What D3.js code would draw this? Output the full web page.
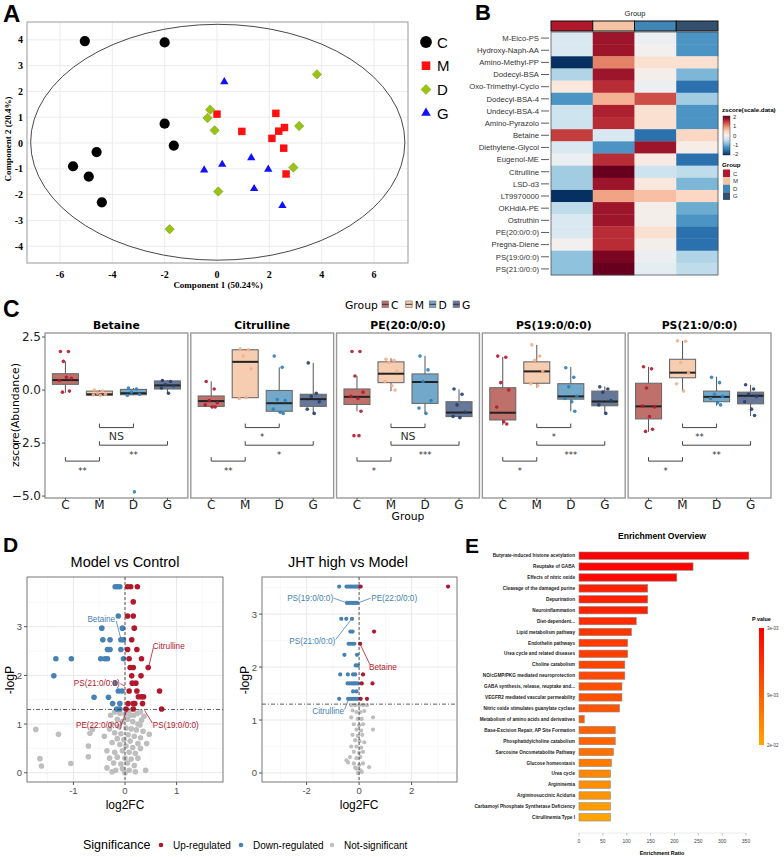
<!DOCTYPE html>
<html>
<head>
<meta charset="utf-8">
<script src="https://cdn.jsdelivr.net/npm/d3@7"></script>
<style>
  body { margin:0; background:#fff; }
</style>
</head>
<body>
<svg width="784" height="857"></svg>
<script>
// ---------- A : score plot ----------
var pcaGroups = ["C", "M", "D", "G"];
var pcaC = [[-5.05,3.95],[-2.0,3.9],[-2.0,0.75],[-1.65,-0.1],[-4.6,-0.35],[-5.5,-0.9],[-4.9,-1.3],[-4.4,-2.3]];
var pcaM = [[0.0,1.12],[0.95,0.45],[2.25,1.15],[2.36,0.46],[2.58,0.6],[2.1,0.18],[2.55,-0.2],[2.64,-1.2]];
var pcaD = [[3.82,2.66],[-0.26,1.29],[-0.36,0.97],[-0.09,0.49],[3.14,0.66],[2.92,-0.95],[0.05,-1.88],[-1.81,-3.34]];
var pcaG = [[0.28,2.37],[-0.49,-1.05],[0.2,-0.83],[1.31,-0.57],[1.96,-1.02],[1.42,-1.77],[2.5,-2.43]];
var ellipseCentre = [0.03, 0.03], ellipseRadii = [7.15, 4.57];

// ---------- B : heatmap ----------
var heatRows = ["M-Eico-PS","Hydroxy-Naph-AA","Amino-Methyl-PP","Dodecyl-BSA","Oxo-Trimethyl-Cyclo","Dodecyl-BSA-4",
  "Undecyl-BSA-4","Amino-Pyrazolo","Betaine","Diethylene-Glycol","Eugenol-ME","Citrulline","LSD-d3","LT9970000",
  "OKHdiA-PE","Ostruthin","PE(20:0/0:0)","Pregna-Diene","PS(19:0/0:0)","PS(21:0/0:0)"];
var heatZ = [
  [-0.3,1.7,-0.1,-1.2],[-0.3,1.7,0.0,-1.2],[-2.0,1.0,0.3,0.3],[-0.6,1.7,0.05,-0.9],[0.2,1.5,-0.1,-1.5],
  [-1.2,0.7,1.3,-0.7],[-0.4,1.6,0.3,-1.2],[-0.4,1.5,0.3,-1.2],[1.4,-0.3,-1.5,0.4],[-0.3,-1.2,1.7,0.1],
  [-0.1,1.5,0.15,-1.5],[-0.7,2.0,-0.4,-0.5],[-0.7,1.7,0.2,-0.9],[-2.0,0.8,0.6,0.4],[-0.5,1.7,0.05,-1.0],
  [-0.3,1.7,0.05,-1.2],[-0.3,1.5,0.3,-1.5],[0.0,1.5,0.05,-1.5],[-0.8,1.9,-0.1,-0.6],[-0.8,2.0,-0.2,-0.5]];
var zTicks = [2, 1, 0, -1, -2];

// ---------- C : box plots ----------
var boxNames = ["Betaine","Citrulline","PE(20:0/0:0)","PS(19:0/0:0)","PS(21:0/0:0)"];
// per metabolite, per group: [low whisker, q1, median, q3, high whisker]
var boxStats = [
  [[-0.13,0.27,0.47,0.77,1.35],[-0.26,-0.24,-0.2,-0.05,0.0],[-0.25,-0.22,-0.15,0.03,0.1],[-0.15,0.05,0.22,0.43,0.47]],
  [[-0.84,-0.77,-0.52,-0.28,0.41],[-0.38,-0.36,1.33,1.9,1.93],[-1.07,-1.0,-0.62,-0.02,1.07],[-1.14,-0.77,-0.43,-0.2,1.28]],
  [[-1.0,-0.68,-0.32,0.05,0.66],[-0.05,0.35,0.77,1.33,1.5],[-1.12,-0.63,0.38,0.76,1.61],[-1.36,-1.25,-1.06,-0.55,0.03]],
  [[-1.66,-1.41,-1.07,0.11,1.56],[0.11,0.32,0.88,1.33,2.13],[-1.0,-0.43,-0.3,0.3,1.09],[-1.12,-0.74,-0.54,-0.05,0.17]],
  [[-1.97,-1.36,-0.77,0.32,1.09],[-0.05,0.58,0.82,1.45,2.32],[-0.74,-0.55,-0.32,-0.05,0.63],[-1.23,-0.65,-0.27,-0.1,0.25]]
];
var boxPoints = [
  [[1.82,1.82,1.35,0.55,0.45,0.6,-0.05,-0.1],[0.0,-0.05,-0.15,-0.2,-0.22,-0.25],[0.1,0.05,-0.1,-0.2,-0.25,-4.8],[0.45,0.4,0.25,0.2,0.1,-0.15]],
  [[0.4,0.05,-0.5,-0.6,-0.7,-0.8,-0.8],[1.95,1.9,1.6,1.0,-0.4,-0.35],[1.6,1.07,-0.45,-0.5,-0.9,-1.05,-1.1],[1.28,-0.15,-0.3,-0.55,-0.9,-1.1]],
  [[1.82,1.82,0.66,-0.1,-0.3,-0.4,-1.0,-2.15,-2.15],[1.45,1.4,1.3,0.9,0.4,0.2,0.0],[1.6,0.95,0.4,-0.5,-0.85,-1.1],[0.05,-0.2,-0.7,-1.05,-1.25,-1.3]],
  [[1.6,1.55,0.35,0.0,-0.8,-1.5,-1.6],[2.13,1.6,1.4,0.9,0.3,0.2],[1.05,0.6,0.15,-0.3,-0.4,-0.55,-1.0],[0.15,0.05,-0.1,-0.5,-0.7,-1.1]],
  [[1.1,1.0,0.1,-0.8,-0.75,-1.25,-1.85,-1.95],[2.32,2.3,1.3,0.8,0.3,-0.05],[0.6,0.35,-0.2,-0.3,-0.4,-0.6,-0.7],[0.25,0.05,-0.2,-0.3,-0.55,-0.9,-1.2]]
];
var sigPairs = [["M","D"],["M","G"],["C","M"]];
var sigLevels = [-1.77, -2.6, -3.35];
var sigLabels = [["NS","**","**"],["*","*","**"],["NS","***","*"],["*","***","*"],["**","**","*"]];
var boxTicks = [2.5, 0, -2.5, -5];

// ---------- D : volcano plots ----------
var volLeftUp = [[0.05,3.82],[0.11,3.82],[0.24,3.82],[0.16,3.51],[0.05,3.22],[0.16,3.22],[0.18,2.97],[0.13,2.73],
  [0.05,2.53],[0.23,2.53],[0.08,2.34],[0.32,2.34],[0.1,2.16],[0.16,2.16],[0.45,2.16],[0.13,1.99],[0.31,1.99],
  [0.14,1.84],[0.21,1.84],[0.08,1.68],[0.23,1.68],[0.67,1.68],[0.26,1.56],[0.32,1.56],[0.36,1.56],[0.06,1.42],
  [0.16,1.42],[0.19,1.42],[0.34,1.42],[0.02,1.31],[0.16,1.31],[0.71,1.31]];
var volLeftDown = [[-0.19,3.82],[-0.15,3.82],[-0.1,3.82],[-0.13,3.22],[-0.45,2.97],[-0.05,2.97],[-0.43,2.73],
  [-0.29,2.73],[-0.08,2.73],[-0.03,2.73],[-0.34,2.53],[-0.29,2.53],[-0.08,2.53],[-1.34,2.34],[-1.04,2.34],
  [-0.47,2.34],[-0.39,2.34],[-0.34,2.34],[-0.03,2.34],[-1.38,1.99],[-0.19,1.84],[-0.13,1.68],[-0.06,1.68],
  [-0.6,1.55],[-0.32,1.55],[-0.24,1.42],[-0.1,1.42],[-0.16,1.31],[-0.1,1.31]];
var volLeftNs = [[-1.73,0.89],[-1.29,0.79],[-1.65,0.29],[-1.62,0.14],[-1.05,0.19],[-0.71,0.33],[-0.71,0.55],
  [-0.68,0.81],[-0.63,0.89],[0.32,1.08],[0.37,1.16],[0.47,0.79],[0.4,0.05],[0.29,0.98],[0.17,1.18],
  [-0.2,1.25],[-0.1,1.22],[0.0,1.2],[0.1,1.18],[0.24,1.22],[-0.15,1.1],[-0.05,1.05],[0.05,1.1],[0.15,1.05],
  [0.25,1.0],[-0.25,1.0],[-0.3,0.9],[-0.12,0.95],[0.02,0.92],[0.12,0.9],[0.22,0.88],[-0.2,0.82],[-0.08,0.8],
  [0.06,0.78],[0.18,0.75],[0.3,0.72],[-0.15,0.7],[-0.02,0.68],[0.1,0.65],[0.25,0.6],[-0.25,0.62],[-0.1,0.58],
  [0.02,0.55],[0.15,0.52],[-0.35,0.45],[-0.2,0.42],[-0.05,0.45],[0.08,0.42],[0.2,0.4],[-0.3,0.3],[-0.15,0.32],
  [0.0,0.3],[0.12,0.28],[0.25,0.3],[-0.22,0.2],[-0.08,0.18],[0.05,0.2],[0.18,0.15],[-0.35,0.1],[-0.18,0.05],
  [-0.05,0.08],[0.08,0.05],[0.2,0.02],[-0.25,0.02],[0.0,0.0],[0.3,0.5],[0.35,0.85],[-0.4,0.75],[0.42,0.6],
  [-0.1,1.28],[0.08,1.27],[-0.28,1.18],[0.3,1.25]];
var volRightUp = [[0.06,3.52],[3.39,3.52],[0.57,2.67],[0.04,2.44],[0.15,1.86],[0.1,1.69],[0.51,1.69],[0.06,1.4],[0.3,1.4]];
var volRightDown = [[-0.76,3.52],[-0.48,3.52],[-0.41,3.52],[-0.34,3.52],[-0.27,3.52],[-0.2,3.52],[-0.13,3.52],[-0.06,3.52],
  [-0.46,3.21],[-0.38,3.21],[-0.3,3.21],[-0.23,3.21],[-0.15,3.21],[-0.08,3.21],[-0.68,2.91],[-0.49,2.91],[-0.27,2.91],
  [-0.33,2.67],[-0.25,2.67],[-0.4,2.44],[-0.33,2.44],[-0.25,2.44],[-0.18,2.44],[-0.56,2.23],[-0.08,2.23],
  [-0.13,2.03],[-0.05,2.03],[-0.72,1.86],[-0.43,1.86],[-0.23,1.86],[-0.15,1.86],[-0.44,1.69],[-0.35,1.69],
  [-0.27,1.69],[-0.2,1.69],[-0.13,1.69],[-0.05,1.69],[-0.23,1.54],[-0.1,1.54],[-0.76,1.4],[-0.42,1.4],
  [-0.35,1.4],[-0.28,1.4],[-0.2,1.4],[-0.13,1.4],[-0.05,1.4]];
var volRightNs = [[-0.3,1.28],[-0.15,1.28],[0.0,1.28],[0.15,1.28],[0.3,1.28],[-0.25,1.18],[-0.1,1.15],[0.05,1.15],
  [0.2,1.17],[-0.3,1.05],[-0.05,1.02],[0.1,1.02],[0.53,1.05],[-0.2,0.92],[0.0,0.9],[0.15,0.92],[-0.1,0.82],
  [0.08,0.8],[0.53,0.82],[-0.25,0.72],[-0.05,0.7],[0.12,0.72],[-0.15,0.62],[0.02,0.6],[0.2,0.58],[-0.3,0.5],
  [-0.1,0.5],[0.08,0.48],[-0.2,0.4],[0.0,0.38],[0.15,0.4],[-0.35,0.3],[-0.1,0.28],[0.05,0.3],[-0.48,0.24],
  [-0.42,0.2],[-0.2,0.18],[0.0,0.15],[0.15,0.18],[0.38,0.11],[-0.1,0.08],[0.05,0.05],[-0.05,0.0],[0.1,0.02],[-0.15,0.1]];
// label: text, text position, anchor, line start, line end (all in data units)
var volLeftLabels = [
  ["Betaine",[-0.19,3.16],"end",[-0.17,3.12],[-0.08,2.75],"down"],
  ["Citrulline",[0.54,2.61],"start",[0.55,2.57],[0.46,2.18],"up"],
  ["PS(21:0/0:0)",[-0.1,1.85],"end",[-0.09,1.83],[0.0,1.78],"up"],
  ["PE(22:0/0:0)",[-0.06,0.99],"end",[-0.08,0.97],[0.04,1.29],"up"],
  ["PS(19:0/0:0)",[0.54,0.99],"start",[0.53,1.02],[0.38,1.28],"up"]];
var volRightLabels = [
  ["PS(19:0/0:0)",[-0.99,3.3],"end",[-0.97,3.3],[-0.45,3.21],"down"],
  ["PE(22:0/0:0)",[0.46,3.3],"start",[0.44,3.3],[-0.05,3.21],"down"],
  ["PS(21:0/0:0)",[-0.91,2.49],"end",[-0.89,2.52],[-0.3,2.9],"down"],
  ["Betaine",[0.38,2.0],"start",[0.4,2.06],[0.05,2.42],"up"],
  ["Citrulline",[-0.57,1.17],"end",[-0.55,1.2],[-0.4,1.39],"down"]];

// ---------- E : enrichment ----------
var pathNames = ["Butyrate-induced histone acetylation","Reuptake of GABA","Effects of nitric oxide",
  "Cleavage of the damaged purine","Depurination","Neuroinflammation","Diet-dependent...","Lipid metabolism pathway",
  "Endothelin pathways","Urea cycle and related diseases","Choline catabolism","NO/cGMP/PKG mediated neuroprotection",
  "GABA synthesis, release, reuptake and...","VEGFR2 mediated vascular permeability","Nitric oxide stimulates guanylate cyclase",
  "Metabolism of amino acids and derivatives","Base-Excision Repair, AP Site Formation","Phosphatidylcholine catabolism",
  "Sarcosine Oncometabolite Pathway","Glucose homeostasis","Urea cycle","Argininemia","Argininosuccinic Aciduria",
  "Carbamoyl Phosphate Synthetase Deficiency","Citrullinemia Type I"];
var pathRatio = [356,239,205,144,144,144,120,110,102,102,96,96,90,90,85,11,76,76,72,68,66,66,66,66,66];
var pathP = [0.0030,0.00312,0.00329,0.00438,0.00438,0.00438,0.0050,0.00549,0.00592,0.00615,0.00663,0.00688,
  0.00742,0.00771,0.00801,0.00847,0.00938,0.00974,0.0109,0.0124,0.0142,0.0153,0.0165,0.0181,0.0200];
var ratioTicks = [0,50,100,150,200,250,300,350];
var pTicks = [0.003, 0.009, 0.02];
var pTickLabels = ["3e-03","9e-03","2e-02"];

var sans = "'Liberation Sans', Arial, sans-serif";
var dejavu = "'DejaVu Sans', sans-serif";
var serif = "'Liberation Serif', 'Times New Roman', serif";
var svg = d3.select("svg");

function letter(t, x, y, size) {
  svg.append("text").attr("x", x).attr("y", y).text(t)
    .attr("font-family", sans).attr("font-weight", "bold").attr("font-size", size);
}
letter("A", 3, 22, 24); letter("B", 475, 20, 22); letter("C", 3, 317, 23);
letter("D", 3, 552, 21); letter("E", 465, 553, 21);

// ================= A =================
var ax = d3.scaleLinear().domain([-7.26, 7.3]).range([27, 408]);
var ay = d3.scaleLinear().domain([-4.65, 4.69]).range([263, 22]);
var gA = svg.append("g");
gA.selectAll(".vg").data(d3.range(-6, 7, 2)).enter().append("line")
  .attr("x1", ax).attr("x2", ax).attr("y1", 22).attr("y2", 263).attr("stroke", "#ececec");
gA.selectAll(".hg").data(d3.range(-4, 5)).enter().append("line")
  .attr("y1", ay).attr("y2", ay).attr("x1", 27).attr("x2", 408).attr("stroke", "#ececec");
gA.append("rect").attr("x", 27).attr("y", 22).attr("width", 381).attr("height", 241)
  .attr("fill", "none").attr("stroke", "#999");
gA.append("ellipse").attr("cx", ax(ellipseCentre[0])).attr("cy", ay(ellipseCentre[1]))
  .attr("rx", ax(ellipseRadii[0]) - ax(0)).attr("ry", ay(0) - ay(ellipseRadii[1]))
  .attr("fill", "none").attr("stroke", "#333").attr("stroke-width", 0.9);
gA.selectAll(".xt").data(d3.range(-6, 7, 2)).enter().append("text")
  .attr("x", ax).attr("y", 278).attr("text-anchor", "middle").text(function(d){return d;})
  .attr("font-family", serif).attr("font-weight", "bold").attr("font-size", 10);
gA.selectAll(".yt").data(d3.range(-4, 5)).enter().append("text")
  .attr("x", 23).attr("y", function(d){return ay(d) + 3.5;}).attr("text-anchor", "end").text(function(d){return d;})
  .attr("font-family", serif).attr("font-weight", "bold").attr("font-size", 10);
gA.append("text").attr("x", 218).attr("y", 288).attr("text-anchor", "middle").text("Component 1 (50.24%)")
  .attr("font-family", serif).attr("font-weight", "bold").attr("font-size", 9);
gA.append("text").attr("transform", "translate(11,139) rotate(-90)").attr("text-anchor", "middle")
  .text("Component 2 (20.4%)").attr("font-family", serif).attr("font-weight", "bold").attr("font-size", 9);

var pcaSets = [pcaC, pcaM, pcaD, pcaG];
var pcaColor = ["#000000", "#ff1010", "#99c417", "#1010ff"];
var pcaSym = [d3.symbol().type(d3.symbolCircle).size(82), d3.symbol().type(d3.symbolSquare).size(56),
  d3.symbol().type(d3.symbolSquare).size(44), d3.symbol().type(d3.symbolTriangle).size(30)];
var pcaRot = [0, 0, 45, 0];
pcaSets.forEach(function(set, i) {
  gA.selectAll(".p" + i).data(set).enter().append("path")
    .attr("d", pcaSym[i]())
    .attr("transform", function(d){return "translate(" + ax(d[0]) + "," + ay(d[1]) + ") rotate(" + pcaRot[i] + ")";})
    .attr("fill", pcaColor[i]).attr("stroke", i == 2 ? "#7fa314" : "none").attr("stroke-width", 0.6);
});
var legA = svg.append("g");
pcaGroups.forEach(function(g, i) {
  var yy = 42 + i * 23.7;
  legA.append("path").attr("d", pcaSym[i]()).attr("fill", pcaColor[i])
    .attr("transform", "translate(426," + yy + ") rotate(" + pcaRot[i] + ") scale(1.15)");
  legA.append("text").attr("x", 437).attr("y", yy + 5.5).text(g)
    .attr("font-family", sans).attr("font-size", 15);
});

// ================= B =================
var hx = d3.scaleBand().domain(pcaGroups).range([551, 718]);
var hy = d3.scaleBand().domain(heatRows).range([32, 275]);
var heatCol = d3.scaleSequential(d3.interpolateRdBu).domain([2, -2]);
var groupCol = {C: "#b2182b", M: "#f4c4a4", D: "#3f86b5", G: "#34506f"};
var gB = svg.append("g");
gB.append("text").attr("x", 635).attr("y", 16).attr("text-anchor", "middle").text("Group")
  .attr("font-family", sans).attr("font-size", 7.5).attr("fill", "#222");
gB.selectAll(".ann").data(pcaGroups).enter().append("rect")
  .attr("x", function(d){return hx(d);}).attr("y", 21).attr("width", hx.bandwidth()).attr("height", 10)
  .attr("fill", function(d){return groupCol[d];}).attr("stroke", "#111").attr("stroke-width", 1);
heatRows.forEach(function(r, i) {
  gB.selectAll(".c" + i).data(heatZ[i]).enter().append("rect")
    .attr("x", function(d, j){return hx(pcaGroups[j]);}).attr("y", hy(r))
    .attr("width", hx.bandwidth() + 0.3).attr("height", hy.bandwidth() + 0.3)
    .attr("fill", function(d){return heatCol(d);});
  gB.append("text").attr("x", 539).attr("y", hy(r) + hy.bandwidth() / 2 + 2.8).attr("text-anchor", "end")
    .text(r).attr("font-family", sans).attr("font-size", 7.7).attr("fill", "#333");
  gB.append("line").attr("x1", 541).attr("x2", 549).attr("y1", hy(r) + hy.bandwidth() / 2)
    .attr("y2", hy(r) + hy.bandwidth() / 2).attr("stroke", "#333").attr("stroke-width", 0.8);
});
gB.append("rect").attr("x", 551).attr("y", 32).attr("width", 167).attr("height", 243)
  .attr("fill", "none").attr("stroke", "#444").attr("stroke-width", 0.7);
// colour legend
var defs = svg.append("defs");
var grad = defs.append("linearGradient").attr("id", "zgrad").attr("x1", 0).attr("x2", 0).attr("y1", 0).attr("y2", 1);
d3.range(0, 1.01, 0.1).forEach(function(t) {
  grad.append("stop").attr("offset", t).attr("stop-color", heatCol(2 - 4 * t));
});
var zy = d3.scaleLinear().domain([2, -2]).range([117, 154]);
gB.append("text").attr("x", 722).attr("y", 112).text("zscore(scale.data)")
  .attr("font-family", sans).attr("font-weight", "bold").attr("font-size", 6.2);
gB.append("rect").attr("x", 723).attr("y", 116).attr("width", 7).attr("height", 39).attr("fill", "url(#zgrad)")
  .attr("stroke", "#333").attr("stroke-width", 0.5);
gB.selectAll(".zt").data(zTicks).enter().append("text")
  .attr("x", 733).attr("y", function(d){return zy(d) + 2.2;}).text(function(d){return d;})
  .attr("font-family", sans).attr("font-size", 6).attr("fill", "#333");
gB.append("text").attr("x", 722).attr("y", 167).text("Group")
  .attr("font-family", sans).attr("font-weight", "bold").attr("font-size", 6.2);
pcaGroups.forEach(function(g, i) {
  gB.append("rect").attr("x", 723).attr("y", 169.5 + i * 7.6).attr("width", 7).attr("height", 7.6)
    .attr("fill", groupCol[g]);
  gB.append("text").attr("x", 733).attr("y", 175.5 + i * 7.6).text(g)
    .attr("font-family", sans).attr("font-size", 6).attr("fill", "#333");
});

// ================= C =================
var boxFill = {C: "#c0706b", M: "#f6cdb0", D: "#72a9cb", G: "#66789a"};
var dotCol = {C: "#b2182b", M: "#f4b08a", D: "#2f80b8", G: "#243f6a"};
var cY = d3.scaleLinear().domain([-5.09, 2.69]).range([498, 333]);
var facet = d3.scaleBand().domain(boxNames).range([45, 771]).paddingInner(0.02);
var inner = d3.scalePoint().domain(pcaGroups).range([0, facet.bandwidth()]).padding(0.6);
var jitter = [-5, 3, -2, 6, -6, 1, 4, -3, 2];
var gC = svg.append("g");
boxNames.forEach(function(name, m) {
  var g = gC.append("g").attr("transform", "translate(" + facet(name) + ",0)");
  g.append("rect").attr("x", 0).attr("y", 333).attr("width", facet.bandwidth()).attr("height", 165)
    .attr("fill", "none").attr("stroke", "#9a9a9a").attr("stroke-width", 1.4);
  g.append("text").attr("x", facet.bandwidth() / 2).attr("y", 329).attr("text-anchor", "middle").text(name)
    .attr("font-family", dejavu).attr("font-weight", "bold").attr("font-size", 10.8);
  pcaGroups.forEach(function(grp, k) {
    var s = boxStats[m][k], cx = inner(grp), bw = 26;
    g.append("line").attr("x1", cx).attr("x2", cx).attr("y1", cY(s[0])).attr("y2", cY(s[4]))
      .attr("stroke", "#555").attr("stroke-width", 1);
    g.append("rect").attr("x", cx - bw / 2).attr("y", cY(s[3])).attr("width", bw)
      .attr("height", cY(s[1]) - cY(s[3])).attr("fill", boxFill[grp]).attr("stroke", "#6b6b6b").attr("stroke-width", 1.1);
    g.append("line").attr("x1", cx - bw / 2).attr("x2", cx + bw / 2).attr("y1", cY(s[2])).attr("y2", cY(s[2]))
      .attr("stroke", "#222").attr("stroke-width", 2);
    g.selectAll(".d" + k).data(boxPoints[m][k]).enter().append("circle")
      .attr("cx", function(d, i){return cx + jitter[i % jitter.length];}).attr("cy", function(d){return cY(d);})
      .attr("r", 1.8).attr("fill", dotCol[grp]).attr("opacity", 0.9);
    g.append("text").attr("x", cx).attr("y", 509).attr("text-anchor", "middle").text(grp)
      .attr("font-family", dejavu).attr("font-size", 12).attr("fill", "#222");
    g.append("line").attr("x1", cx).attr("x2", cx).attr("y1", 498).attr("y2", 501).attr("stroke", "#555");
  });
  sigPairs.forEach(function(p, k) {
    var x1 = inner(p[0]), x2 = inner(p[1]), yl = cY(sigLevels[k]);
    g.append("path").attr("d", "M" + x1 + "," + (yl - 4) + "V" + yl + "H" + x2 + "V" + (yl - 4))
      .attr("fill", "none").attr("stroke", "#444").attr("stroke-width", 1);
    var lab = sigLabels[m][k];
    g.append("text").attr("x", (x1 + x2) / 2).attr("y", yl + (lab == "NS" ? 12 : 12.5)).attr("text-anchor", "middle")
      .text(lab).attr("font-family", dejavu).attr("font-size", lab == "NS" ? 11 : 8.5).attr("fill", "#333");
  });
});
gC.selectAll(".yt").data(boxTicks).enter().append("text")
  .attr("x", 41).attr("y", function(d){return cY(d) + 4.3;}).attr("text-anchor", "end")
  .text(function(d){return d3.format(".1f")(d);}).attr("font-family", dejavu).attr("font-size", 12).attr("fill", "#222");
gC.selectAll(".ytk").data(boxTicks).enter().append("line")
  .attr("x1", 42).attr("x2", 45).attr("y1", cY).attr("y2", cY).attr("stroke", "#555");
gC.append("text").attr("transform", "translate(19,415) rotate(-90)").attr("text-anchor", "middle")
  .text("zscore(Abundance)").attr("font-family", dejavu).attr("font-size", 10.8);
gC.append("text").attr("x", 408).attr("y", 520).attr("text-anchor", "middle").text("Group")
  .attr("font-family", dejavu).attr("font-size", 10.8);
gC.append("text").attr("x", 345).attr("y", 309).text("Group").attr("font-family", dejavu).attr("font-size", 10.8);
pcaGroups.forEach(function(grp, i) {
  var lx = 382 + i * 23.7;
  gC.append("rect").attr("x", lx).attr("y", 301).attr("width", 6.5).attr("height", 6.5)
    .attr("fill", boxFill[grp]).attr("stroke", "#777").attr("stroke-width", 0.7);
  gC.append("line").attr("x1", lx).attr("x2", lx + 6.5).attr("y1", 304.3).attr("y2", 304.3).attr("stroke", "#333");
  gC.append("text").attr("x", lx + 9).attr("y", 309).text(grp).attr("font-family", dejavu).attr("font-size", 10.8);
});

// ================= D =================
var sigCol = {up: "#b2182b", down: "#4682b4", ns: "#bebebe"};
function volcano(opt) {
  var x = d3.scaleLinear().domain(opt.xd).range(opt.xr);
  var y = d3.scaleLinear().domain(opt.yd).range([782, 577]);
  var g = svg.append("g");
  g.selectAll(".mx").data(opt.xminor).enter().append("line").attr("x1", x).attr("x2", x)
    .attr("y1", 577).attr("y2", 782).attr("stroke", "#f3f3f3").attr("stroke-width", 0.6);
  g.selectAll(".my").data(opt.yminor).enter().append("line").attr("y1", y).attr("y2", y)
    .attr("x1", opt.xr[0]).attr("x2", opt.xr[1]).attr("stroke", "#f3f3f3").attr("stroke-width", 0.6);
  g.selectAll(".Mx").data(opt.xt).enter().append("line").attr("x1", x).attr("x2", x)
    .attr("y1", 577).attr("y2", 782).attr("stroke", "#e8e8e8").attr("stroke-width", 1);
  g.selectAll(".My").data(opt.yt).enter().append("line").attr("y1", y).attr("y2", y)
    .attr("x1", opt.xr[0]).attr("x2", opt.xr[1]).attr("stroke", "#e8e8e8").attr("stroke-width", 1);
  [["ns", opt.ns], ["down", opt.down], ["up", opt.up]].forEach(function(s) {
    g.selectAll(".pt" + s[0]).data(s[1]).enter().append("circle")
      .attr("cx", function(d){return x(d[0]);}).attr("cy", function(d){return y(d[1]);})
      .attr("r", opt.r).attr("fill", sigCol[s[0]]);
  });
  g.append("line").attr("x1", opt.xr[0]).attr("x2", opt.xr[1]).attr("y1", y(1.3)).attr("y2", y(1.3))
    .attr("stroke", "#333").attr("stroke-width", 0.8).attr("stroke-dasharray", "4,2,1,2");
  g.append("line").attr("x1", x(0)).attr("x2", x(0)).attr("y1", 577).attr("y2", 782)
    .attr("stroke", "#333").attr("stroke-width", 0.8).attr("stroke-dasharray", "3,2");
  opt.labels.forEach(function(l) {
    var c = l[5] == "up" ? sigCol.up : sigCol.down;
    g.append("line").attr("x1", x(l[3][0])).attr("y1", y(l[3][1])).attr("x2", x(l[4][0])).attr("y2", y(l[4][1]))
      .attr("stroke", c).attr("stroke-width", 0.8);
    g.append("text").attr("x", x(l[1][0])).attr("y", y(l[1][1]) + 3).attr("text-anchor", l[2]).text(l[0])
      .attr("font-family", sans).attr("font-size", 8.2).attr("fill", c);
  });
  g.append("rect").attr("x", opt.xr[0]).attr("y", 577).attr("width", opt.xr[1] - opt.xr[0]).attr("height", 205)
    .attr("fill", "none").attr("stroke", "#555").attr("stroke-width", 0.8);
  g.selectAll(".xtl").data(opt.xt).enter().append("text").attr("x", x).attr("y", 794).attr("text-anchor", "middle")
    .text(function(d){return d;}).attr("font-family", sans).attr("font-size", 9.5).attr("fill", "#4d4d4d");
  g.selectAll(".xtk").data(opt.xt).enter().append("line").attr("x1", x).attr("x2", x).attr("y1", 782).attr("y2", 785)
    .attr("stroke", "#555");
  g.selectAll(".ytl").data(opt.yt).enter().append("text").attr("x", opt.xr[0] - 5).attr("y", function(d){return y(d) + 3.5;})
    .attr("text-anchor", "end").text(function(d){return d;}).attr("font-family", sans).attr("font-size", 9.5).attr("fill", "#4d4d4d");
  g.selectAll(".ytk").data(opt.yt).enter().append("line").attr("y1", y).attr("y2", y).attr("x1", opt.xr[0] - 3).attr("x2", opt.xr[0])
    .attr("stroke", "#555");
  g.append("text").attr("x", x(0)).attr("y", 809).attr("text-anchor", "middle").text("log2FC")
    .attr("font-family", sans).attr("font-size", 12);
  g.append("text").attr("transform", "translate(" + (opt.xr[0] - 13) + ",680) rotate(-90)").attr("text-anchor", "middle")
    .text("-logP").attr("font-family", sans).attr("font-size", 12.2);
  g.append("text").attr("x", opt.tx).attr("y", 567).attr("text-anchor", "middle").text(opt.title)
    .attr("font-family", sans).attr("font-size", 14.5);
}
volcano({xd: [-1.9, 1.9], xr: [27, 223], yd: [-0.19, 4.02], xt: [-1, 0, 1], yt: [0, 1, 2, 3],
  xminor: [-1.5, -0.5, 0.5, 1.5], yminor: [0.5, 1.5, 2.5, 3.5], up: volLeftUp, down: volLeftDown, ns: volLeftNs,
  r: 2.8, labels: volLeftLabels, title: "Model vs Control", tx: 125});
volcano({xd: [-3.7, 3.73], xr: [262, 457], yd: [-0.17, 3.7], xt: [-2, 0, 2], yt: [0, 1, 2, 3],
  xminor: [-3, -1, 1, 3], yminor: [0.5, 1.5, 2.5, 3.5], up: volRightUp, down: volRightDown, ns: volRightNs,
  r: 2.1, labels: volRightLabels, title: "JHT high vs Model", tx: 348});
var legD = svg.append("g");
legD.append("text").attr("x", 83).attr("y", 849).text("Significance").attr("font-family", sans).attr("font-size", 12.5);
[["up", "Up-regulated", 161], ["down", "Down-regulated", 241], ["ns", "Not-significant", 332]].forEach(function(e) {
  legD.append("circle").attr("cx", e[2]).attr("cy", 845).attr("r", 2.3).attr("fill", sigCol[e[0]]);
  legD.append("text").attr("x", e[2] + 12).attr("y", 848.5).text(e[1]).attr("font-family", sans).attr("font-size", 10);
});

// ================= E =================
var ex = d3.scaleLinear().domain([0, 350]).range([579, 746]);
var ey = d3.scaleBand().domain(pathNames).range([548.5, 824.5]).padding(0.32);
var pCol = d3.scaleLog().domain([0.003, 0.02]).range(["#ff0000", "#ffa500"]);
var gE = svg.append("g");
gE.append("text").attr("x", 662).attr("y", 539).attr("text-anchor", "middle").text("Enrichment Overview")
  .attr("font-family", sans).attr("font-weight", "bold").attr("font-size", 8.6);
gE.selectAll(".bar").data(pathNames).enter().append("rect")
  .attr("x", ex(0)).attr("y", function(d){return ey(d);})
  .attr("width", function(d, i){return ex(pathRatio[i]) - ex(0);}).attr("height", ey.bandwidth())
  .attr("fill", function(d, i){return pCol(pathP[i]);}).attr("stroke", "#8a8a8a").attr("stroke-width", 0.6);
gE.selectAll(".bl").data(pathNames).enter().append("text")
  .attr("x", 575).attr("y", function(d){return ey(d) + ey.bandwidth() / 2 + 1.7;}).attr("text-anchor", "end")
  .text(function(d){return d;}).attr("font-family", sans).attr("font-weight", "bold").attr("font-size", 4.7).attr("fill", "#222");
gE.append("line").attr("x1", ex(0)).attr("x2", ex(350)).attr("y1", 833).attr("y2", 833).attr("stroke", "#ddd").attr("stroke-width", 0.6);
gE.selectAll(".et").data(ratioTicks).enter().append("line").attr("x1", ex).attr("x2", ex).attr("y1", 833).attr("y2", 835.5)
  .attr("stroke", "#999").attr("stroke-width", 0.6);
gE.selectAll(".etl").data(ratioTicks).enter().append("text").attr("x", ex).attr("y", 843).attr("text-anchor", "middle")
  .text(function(d){return d;}).attr("font-family", sans).attr("font-size", 5).attr("fill", "#444");
gE.append("text").attr("x", 662).attr("y", 855).attr("text-anchor", "middle").text("Enrichment Ratio")
  .attr("font-family", sans).attr("font-weight", "bold").attr("font-size", 5.4);
var pgrad = defs.append("linearGradient").attr("id", "pgrad").attr("x1", 0).attr("x2", 0).attr("y1", 0).attr("y2", 1);
pgrad.append("stop").attr("offset", 0).attr("stop-color", pCol(0.003));
pgrad.append("stop").attr("offset", 1).attr("stop-color", pCol(0.02));
var py = d3.scaleLog().domain([0.003, 0.02]).range([628, 745]);
gE.append("text").attr("x", 752).attr("y", 621).text("P value").attr("font-family", sans).attr("font-weight", "bold").attr("font-size", 5.4);
gE.append("rect").attr("x", 759).attr("y", 628).attr("width", 5).attr("height", 117).attr("fill", "url(#pgrad)");
gE.selectAll(".pt").data(pTicks).enter().append("text").attr("x", 767).attr("y", function(d){return py(d) + 1.7;})
  .text(function(d, i){return pTickLabels[i];}).attr("font-family", sans).attr("font-size", 4.5).attr("fill", "#444");
</script>
</body>
</html>
